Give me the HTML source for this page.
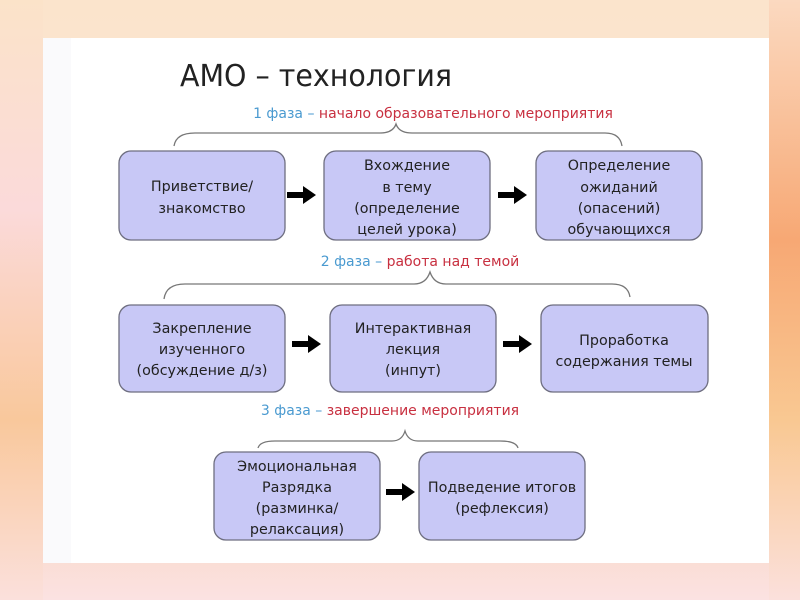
<!DOCTYPE html>
<html><head><meta charset="utf-8"><style>
html,body{margin:0;padding:0;width:800px;height:600px;overflow:hidden}
body{background:linear-gradient(180deg,#fbe4cc 0%,#fbe6d4 40%,#f9d0b0 75%,#fbe2e2 100%)}
.l{position:absolute;left:0;top:0;width:43px;height:600px;background:linear-gradient(180deg,#fbe3c9 0%,#fbdada 35%,#f9c89c 70%,#fbe0dc 100%)}
.r{position:absolute;right:0;top:0;width:31px;height:600px;background:linear-gradient(180deg,#fbd9c0 0%,#f7a874 40%,#f9c892 70%,#fbe0dc 100%)}
svg{position:absolute;left:0;top:0}
text{font-family:"DejaVu Sans","Liberation Sans",sans-serif}
</style></head><body>
<div class="l"></div><div class="r"></div>
<svg width="800" height="600" viewBox="0 0 800 600">
<rect x="43" y="38" width="726" height="525" fill="#fff"/>
<rect x="43" y="38" width="28" height="525" fill="#fafafc"/>
<text x="180" y="86" font-size="30" fill="#222" font-family="Liberation Sans" textLength="272" lengthAdjust="spacingAndGlyphs">АМО – технология</text>
<g font-size="14" text-anchor="middle">
<text x="433" y="118"><tspan fill="#4a9ad0">1 фаза – </tspan><tspan fill="#c83040">начало образовательного мероприятия</tspan></text>
<text x="420" y="266"><tspan fill="#4a9ad0">2 фаза – </tspan><tspan fill="#c83040">работа над темой</tspan></text>
<text x="390" y="415"><tspan fill="#4a9ad0">3 фаза – </tspan><tspan fill="#c83040">завершение мероприятия</tspan></text>
</g>
<g fill="none" stroke="#777" stroke-width="1.3">
<path d="M174 146 Q176 133 195 133 L380 133 Q393 133 396 124 Q399 133 412 133 L605 133 Q620 133 622 146"/>
<path d="M164 299 Q166 284 185 284 L414 284 Q426 284 430 272 Q434 284 446 284 L612 284 Q628 284 630 297"/>
<path d="M258 448 Q260 441 275 441 L392 441 Q402 441 405 431 Q408 441 418 441 L500 441 Q516 441 518 448"/>
</g>
<g fill="#c8c8f6" stroke="#6e6e80" stroke-width="1.3">
<rect x="119" y="151" width="166" height="89" rx="12"/>
<rect x="324" y="151" width="166" height="89" rx="12"/>
<rect x="536" y="151" width="166" height="89" rx="12"/>
<rect x="119" y="305" width="166" height="87" rx="12"/>
<rect x="330" y="305" width="166" height="87" rx="12"/>
<rect x="541" y="305" width="167" height="87" rx="12"/>
<rect x="214" y="452" width="166" height="88" rx="12"/>
<rect x="419" y="452" width="166" height="88" rx="12"/>
</g>
<g fill="#000">
<path d="M287 192h16v-6l13 9-13 9v-6h-16z"/>
<path d="M498 192h16v-6l13 9-13 9v-6h-16z"/>
<path d="M292 341h16v-6l13 9-13 9v-6h-16z"/>
<path d="M503 341h16v-6l13 9-13 9v-6h-16z"/>
<path d="M386 489h16v-6l13 9-13 9v-6h-16z"/>
</g>
<g font-size="14.3" fill="#222" text-anchor="middle">
<text x="202" y="191">Приветствие/</text><text x="202" y="213">знакомство</text>
<text x="407" y="170">Вхождение</text><text x="407" y="192">в тему</text><text x="407" y="213">(определение</text><text x="407" y="234">целей урока)</text>
<text x="619" y="170">Определение</text><text x="619" y="192">ожиданий</text><text x="619" y="213">(опасений)</text><text x="619" y="234">обучающихся</text>
<text x="202" y="333">Закрепление</text><text x="202" y="354">изученного</text><text x="202" y="375">(обсуждение д/з)</text>
<text x="413" y="333">Интерактивная</text><text x="413" y="354">лекция</text><text x="413" y="375">(инпут)</text>
<text x="624" y="345">Проработка</text><text x="624" y="366">содержания темы</text>
<text x="297" y="471">Эмоциональная</text><text x="297" y="492">Разрядка</text><text x="297" y="513">(разминка/</text><text x="297" y="534">релаксация)</text>
<text x="502" y="492">Подведение итогов</text><text x="502" y="513">(рефлексия)</text>
</g>
</svg>
</body></html>
